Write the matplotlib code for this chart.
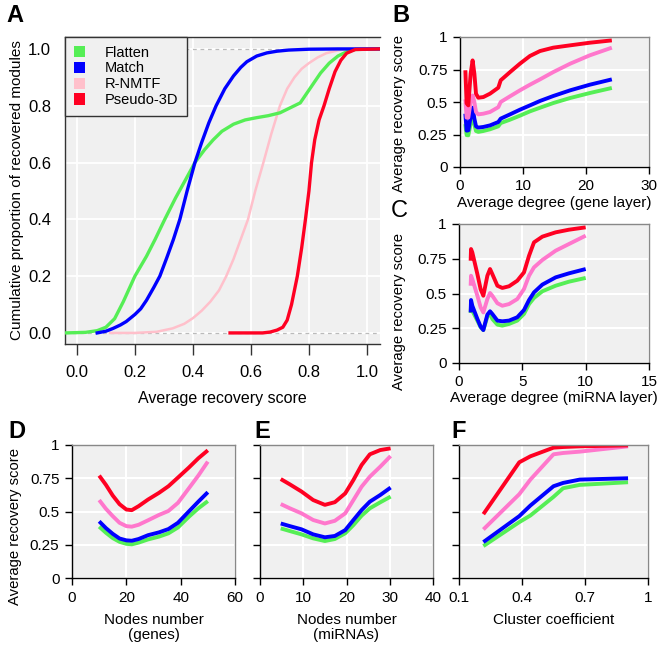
import matplotlib
matplotlib.use("Agg")
import matplotlib.pyplot as plt
from matplotlib.patches import Patch

plt.rcParams['font.family'] = ['Liberation Sans', 'DejaVu Sans']

W, H = 661, 650
GREEN = '#55ee55'
BLUE = '#0000ff'
PINK_A = '#ffc0cb'
PINK = '#ff77cc'
RED = '#ff0022'
BG = '#f0f0f0'

methods = ['Flatten', 'Match', 'R-NMTF', 'Pseudo-3D']

# ---- Panel A: cumulative distributions ----
a_flat_x = [-0.04, 0.03, 0.07, 0.1, 0.13, 0.16, 0.2, 0.24, 0.27, 0.303, 0.34, 0.375, 0.407, 0.44, 0.47, 0.5,
            0.54, 0.58, 0.62, 0.66, 0.70, 0.74, 0.77, 0.80, 0.82, 0.84, 0.87, 0.9, 0.93, 0.96, 1.045]
a_flat_y = [0, 0.002, 0.008, 0.02, 0.05, 0.11, 0.2, 0.27, 0.33, 0.4, 0.475, 0.54, 0.6, 0.645, 0.68, 0.71,
            0.735, 0.75, 0.758, 0.765, 0.775, 0.795, 0.81, 0.855, 0.885, 0.915, 0.95, 0.975, 0.99, 0.998, 1]
a_match_x = [0.07, 0.1, 0.125, 0.15, 0.17, 0.2, 0.22, 0.24, 0.265, 0.286, 0.31, 0.333, 0.355, 0.38, 0.407, 0.43,
             0.455, 0.48, 0.51, 0.54, 0.565, 0.586, 0.62, 0.655, 0.69, 0.73, 0.8, 0.9, 1.045]
a_match_y = [0, 0.006, 0.016, 0.028, 0.04, 0.065, 0.085, 0.115, 0.16, 0.2, 0.265, 0.33, 0.4, 0.5, 0.6, 0.67,
             0.74, 0.8, 0.86, 0.905, 0.935, 0.955, 0.975, 0.986, 0.992, 0.996, 0.999, 1, 1]
a_rnmtf_x = [0.114, 0.2, 0.275, 0.33, 0.37, 0.40, 0.43, 0.46, 0.49, 0.515, 0.54, 0.565, 0.59, 0.615, 0.643, 0.67,
             0.70, 0.725, 0.75, 0.775, 0.80, 0.83, 0.86, 0.9, 0.94, 1.045]
a_rnmtf_y = [0, 0, 0.004, 0.016, 0.032, 0.052, 0.078, 0.11, 0.15, 0.2, 0.26, 0.33, 0.4, 0.5, 0.6, 0.7,
             0.8, 0.86, 0.9, 0.93, 0.95, 0.97, 0.985, 0.995, 1, 1]
a_p3d_x = [0.528, 0.64, 0.666, 0.69, 0.71, 0.725, 0.74, 0.76, 0.775, 0.788, 0.80, 0.809, 0.82, 0.835, 0.852, 0.87,
           0.89, 0.91, 0.93, 0.96, 1.045]
a_p3d_y = [0, 0, 0.003, 0.01, 0.02, 0.045, 0.1, 0.2, 0.3, 0.4, 0.5, 0.6, 0.68, 0.75, 0.8, 0.86,
           0.92, 0.96, 0.985, 0.998, 1]
a_xticks = [0.0, 0.2, 0.4, 0.6, 0.8, 1.0]
a_yticks = [0.0, 0.2, 0.4, 0.6, 0.8, 1.0]

# ---- Panel B: vs average degree (gene layer) ----
b_x = [0.85, 1.05, 1.32, 1.69, 2.0, 2.28, 2.54, 2.9, 3.7, 4.76, 6.08, 6.46, 7.94, 9.52, 11.1, 12.7, 14.8,
       17.5, 20.6, 24.1]
b_flat = [0.33, 0.245, 0.244, 0.333, 0.385, 0.328, 0.277, 0.27, 0.277, 0.29, 0.313, 0.338, 0.364, 0.395,
          0.428, 0.456, 0.492, 0.531, 0.569, 0.608]
b_match = [0.41, 0.28, 0.282, 0.385, 0.456, 0.372, 0.313, 0.303, 0.308, 0.32, 0.346, 0.372, 0.405, 0.441,
           0.474, 0.508, 0.546, 0.59, 0.633, 0.674]
b_rnmtf = [0.52, 0.38, 0.38, 0.50, 0.55, 0.50, 0.423, 0.405, 0.41, 0.423, 0.46, 0.50, 0.544, 0.59, 0.633,
           0.674, 0.73, 0.795, 0.859, 0.918]
b_p3d = [0.744, 0.49, 0.474, 0.718, 0.82, 0.718, 0.564, 0.533, 0.538, 0.564, 0.61, 0.667, 0.73, 0.795,
         0.854, 0.892, 0.918, 0.936, 0.956, 0.974]

# ---- Panel C: vs average degree (miRNA layer) ----
c_x = [0.92, 0.95, 1.05, 1.45, 1.71, 1.92, 2.24, 2.45, 2.63, 3.03, 3.42, 3.95, 4.6, 5.13, 5.53, 5.92, 6.58,
       7.63, 8.68, 10.0]
c_flat = [0.36, 0.41, 0.376, 0.305, 0.257, 0.237, 0.333, 0.357, 0.317, 0.276, 0.269, 0.281, 0.305, 0.353,
          0.424, 0.468, 0.516, 0.556, 0.585, 0.612]
c_match = [0.364, 0.453, 0.412, 0.317, 0.261, 0.237, 0.348, 0.372, 0.353, 0.305, 0.30, 0.305, 0.329, 0.381,
           0.453, 0.508, 0.564, 0.616, 0.645, 0.676]
c_rnmtf = [0.556, 0.628, 0.604, 0.484, 0.40, 0.364, 0.46, 0.504, 0.484, 0.43, 0.412, 0.424, 0.46, 0.532,
           0.628, 0.688, 0.741, 0.808, 0.856, 0.916]
c_p3d = [0.736, 0.82, 0.796, 0.64, 0.53, 0.484, 0.628, 0.676, 0.64, 0.556, 0.54, 0.552, 0.592, 0.652,
         0.772, 0.868, 0.909, 0.94, 0.959, 0.976]

# ---- Panel D: vs nodes number (genes) ----
d_x = [10, 12.5, 15, 17.5, 20, 22, 24.5, 28, 32, 35.5, 39, 43, 46.5, 50]
d_flat = [0.386, 0.34, 0.30, 0.272, 0.257, 0.253, 0.266, 0.29, 0.311, 0.336, 0.38, 0.46, 0.524, 0.578]
d_match = [0.426, 0.375, 0.332, 0.297, 0.283, 0.28, 0.293, 0.322, 0.343, 0.368, 0.415, 0.50, 0.574, 0.645]
d_rnmtf = [0.586, 0.52, 0.465, 0.415, 0.39, 0.386, 0.40, 0.434, 0.474, 0.504, 0.565, 0.674, 0.77, 0.875]
d_p3d = [0.77, 0.70, 0.62, 0.555, 0.515, 0.51, 0.54, 0.59, 0.64, 0.69, 0.755, 0.83, 0.90, 0.96]

# ---- Panel E: vs nodes number (miRNAs) ----
e_x = [4.8, 6.9, 9.6, 12.3, 15, 17.3, 19.7, 21.6, 23.5, 25.4, 27.8, 30.2]
e_flat = [0.373, 0.353, 0.328, 0.298, 0.278, 0.293, 0.336, 0.398, 0.469, 0.524, 0.569, 0.612]
e_match = [0.41, 0.39, 0.366, 0.328, 0.306, 0.316, 0.36, 0.436, 0.511, 0.574, 0.624, 0.68]
e_rnmtf = [0.556, 0.524, 0.486, 0.436, 0.41, 0.43, 0.486, 0.586, 0.687, 0.762, 0.837, 0.917]
e_p3d = [0.744, 0.704, 0.65, 0.586, 0.55, 0.57, 0.636, 0.737, 0.85, 0.93, 0.962, 0.975]

# ---- Panel F: vs cluster coefficient ----
f_x = [0.216, 0.387, 0.44, 0.55, 0.596, 0.675, 0.905]
f_flat = [0.24, 0.42, 0.47, 0.61, 0.675, 0.70, 0.72]
f_match = [0.27, 0.465, 0.545, 0.69, 0.715, 0.74, 0.75]
f_rnmtf = [0.365, 0.63, 0.74, 0.93, 0.94, 0.95, 0.99]
f_p3d = [0.48, 0.87, 0.915, 0.98, 0.985, 0.99, 0.997]

score_ticks = [0, 0.25, 0.5, 0.75, 1]
score_labels = ['0', '0.25', '0.5', '0.75', '1']

fig = plt.figure(figsize=(W / 100, H / 100), dpi=100)


def box(l, r, t, b):
    return [l / W, 1 - b / H, (r - l) / W, (b - t) / H]


# ---------- Panel A ----------
axA = fig.add_axes(box(65, 380, 37, 344))
axA.set_facecolor(BG)
axA.set_xlim(-0.041, 1.045)
axA.set_ylim(-0.039, 1.042)
axA.set_xticks(a_xticks)
axA.set_yticks(a_yticks)
axA.set_xticklabels([f'{v:.1f}' for v in a_xticks])
axA.set_yticklabels([f'{v:.1f}' for v in a_yticks])
axA.grid(True, color='white', lw=1.3)
axA.set_axisbelow(True)
for s in ['left', 'bottom', 'top']:
    axA.spines[s].set_color('#333333')
    axA.spines[s].set_linewidth(1.0)
axA.spines['right'].set_visible(False)
axA.tick_params(axis='x', length=8, width=1, pad=7, labelsize=12, color='#333333')
axA.tick_params(axis='y', length=0, pad=10, labelsize=12)
axA.axhline(0, color='#bbbbbb', ls=(0, (3, 3)), lw=0.9, zorder=1)
axA.axhline(1, color='#bbbbbb', ls=(0, (3, 3)), lw=0.9, zorder=1)
axA.plot(a_rnmtf_x, a_rnmtf_y, color=PINK_A, lw=1.8, zorder=3)
axA.plot(a_flat_x, a_flat_y, color=GREEN, lw=2.4, zorder=4)
axA.plot(a_match_x, a_match_y, color=BLUE, lw=2.4, zorder=4)
axA.plot(a_p3d_x, a_p3d_y, color=RED, lw=2.4, zorder=5)
axA.set_xlabel('Average recovery score', fontsize=11.5, labelpad=8)
axA.set_ylabel('Cumulative proportion of recovered modules', fontsize=11, labelpad=3)
handles = [Patch(facecolor=c, edgecolor='none') for c in [GREEN, BLUE, PINK_A, RED]]
leg = axA.legend(handles, methods, loc='upper left', bbox_to_anchor=(0, 1), borderaxespad=0,
                 fontsize=10.5, frameon=True, fancybox=False, handlelength=0.8, handleheight=0.8,
                 handletextpad=1.3, labelspacing=0.12, borderpad=0.6)
leg.get_frame().set_edgecolor('#333333')
leg.get_frame().set_linewidth(1.0)
leg.get_frame().set_facecolor(BG)
leg.get_frame().set_alpha(1)


def style_panel(ax, xlim, xticks, xticklabels, show_ylabels=True):
    ax.set_facecolor(BG)
    ax.set_xlim(*xlim)
    ax.set_ylim(0, 1)
    ax.set_xticks(xticks)
    ax.set_xticklabels(xticklabels)
    ax.set_yticks(score_ticks)
    if show_ylabels:
        ax.set_yticklabels(score_labels)
    else:
        ax.set_yticklabels([])
    ax.grid(True, color='white', lw=1.5)
    ax.set_axisbelow(True)
    for s in ['left', 'bottom']:
        ax.spines[s].set_color('black')
        ax.spines[s].set_linewidth(1.0)
    for s in ['top', 'right']:
        ax.spines[s].set_color('#888888')
        ax.spines[s].set_linewidth(1.0)
    ax.tick_params(length=5, width=1, labelsize=11, pad=4)


def draw_lines(ax, x, fl, ma, rn, p3):
    for y, c in [(fl, GREEN), (ma, BLUE), (rn, PINK), (p3, RED)]:
        ax.plot(x, y, color=c, lw=2.8, solid_capstyle='butt', solid_joinstyle='round')


YL = 10.7

axB = fig.add_axes(box(460, 649, 37, 167))
style_panel(axB, (0, 30), [0, 10, 20, 30], ['0', '10', '20', '30'])
draw_lines(axB, b_x, b_flat, b_match, b_rnmtf, b_p3d)
axB.set_xlabel('Average degree (gene layer)', fontsize=11, labelpad=2)
axB.set_ylabel('Average recovery score', fontsize=YL)
axB.yaxis.set_label_coords(-54 / 189, 0.415)

axC = fig.add_axes(box(459, 649, 224, 363))
style_panel(axC, (0, 15), [0, 5, 10, 15], ['0', '5', '10', '15'])
draw_lines(axC, c_x, c_flat, c_match, c_rnmtf, c_p3d)
axC.set_xlabel('Average degree (miRNA layer)', fontsize=11, labelpad=1)
axC.set_ylabel('Average recovery score', fontsize=YL)
axC.yaxis.set_label_coords(-53 / 190, 0.367)

axD = fig.add_axes(box(72, 235, 445, 578))
style_panel(axD, (0, 60), [0, 20, 40, 60], ['0', '20', '40', '60'])
draw_lines(axD, d_x, d_flat, d_match, d_rnmtf, d_p3d)
axD.set_xlabel('Nodes number\n(genes)', fontsize=11, labelpad=6, linespacing=1.1)
axD.set_ylabel('Average recovery score', fontsize=YL)
axD.yaxis.set_label_coords(-50 / 163, 0.39)

axE = fig.add_axes(box(260, 433, 445, 578))
style_panel(axE, (0, 40), [0, 10, 20, 30, 40], ['0', '10', '20', '30', '40'], show_ylabels=False)
draw_lines(axE, e_x, e_flat, e_match, e_rnmtf, e_p3d)
axE.set_xlabel('Nodes number\n(miRNAs)', fontsize=11, labelpad=6, linespacing=1.1)

axF = fig.add_axes(box(459, 648, 445, 578))
style_panel(axF, (0.1, 1.0), [0.1, 0.4, 0.7, 1.0], ['0.1', '0.4', '0.7', '1'], show_ylabels=False)
draw_lines(axF, f_x, f_flat, f_match, f_rnmtf, f_p3d)
axF.set_xlabel('Cluster coefficient', fontsize=11, labelpad=6)

# panel letters
fig.text(6 / W, 1 - 4 / H, 'A', fontsize=17, fontweight='bold', va='top', ha='left')
fig.text(392 / W, 1 - 4 / H, 'B', fontsize=17, fontweight='bold', va='top', ha='left')
fig.text(391 / W, 1 - 200 / H, 'C', fontsize=17, va='top', ha='left')
fig.text(8 / W, 1 - 420 / H, 'D', fontsize=17, fontweight='bold', va='top', ha='left')
fig.text(254 / W, 1 - 420 / H, 'E', fontsize=17, fontweight='bold', va='top', ha='left')
fig.text(451 / W, 1 - 420 / H, 'F', fontsize=17, fontweight='bold', va='top', ha='left')

fig.savefig('out.png', dpi=100)
